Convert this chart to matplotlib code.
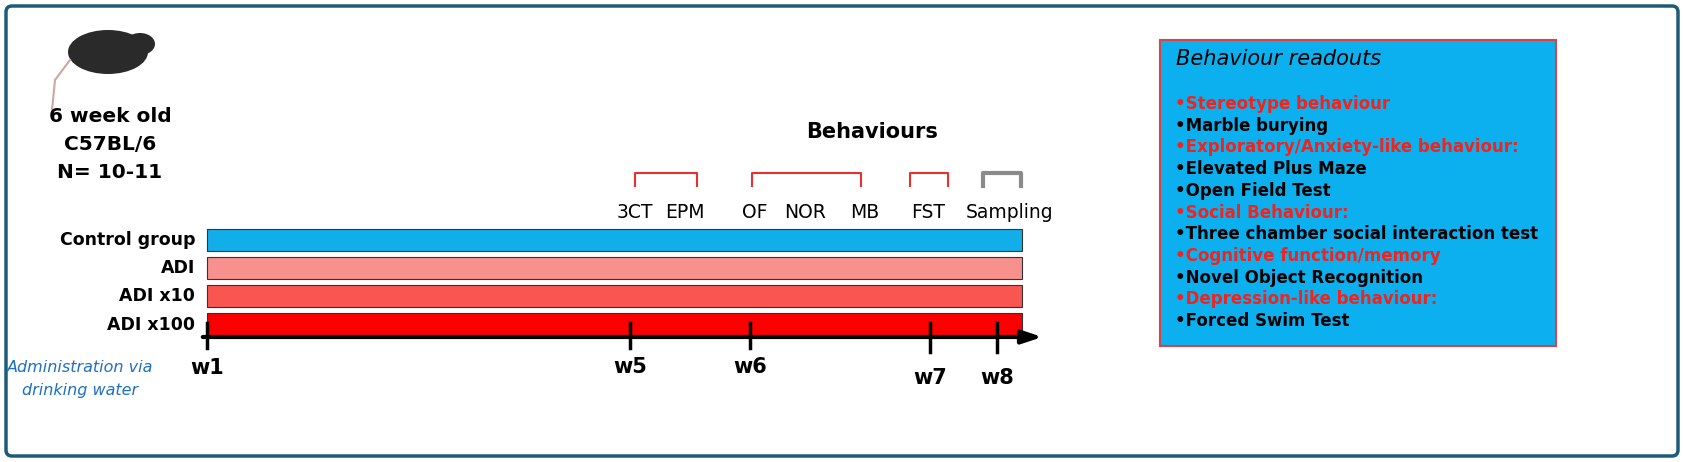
import matplotlib
matplotlib.use("Agg")
import matplotlib.pyplot as plt
from matplotlib.patches import FancyBboxPatch, Rectangle, Ellipse

groups = ["Control group", "ADI", "ADI x10", "ADI x100"]
group_colors = ["#12aeea", "#f7918d", "#f95651", "#fa0000"]
weeks = ["w1", "w5", "w6", "w7", "w8"]
week_x = [207, 630, 750, 930, 997]
week_label_y = [368, 367, 367, 378, 378]
tests = ["3CT", "EPM", "OF", "NOR", "MB", "FST", "Sampling"]
test_x = [635, 685, 755, 805, 865, 928, 1010]
brackets = [(635, 697, "#e8312c"), (752, 861, "#e8312c"), (910, 948, "#e8312c"), (983, 1021, "#8a8a8a")]
readouts = [("•Stereotype behaviour", True), ("•Marble burying", False),
            ("•Exploratory/Anxiety-like behaviour:", True), ("•Elevated Plus Maze", False),
            ("•Open Field Test", False), ("•Social Behaviour:", True),
            ("•Three chamber social interaction test", False), ("•Cognitive function/memory", True),
            ("•Novel Object Recognition", False), ("•Depression-like behaviour:", True),
            ("•Forced Swim Test", False)]

fig = plt.figure(figsize=(16.84, 4.62), dpi=100)
ax = fig.add_axes([0, 0, 1, 1])
ax.set_xlim(0, 1684); ax.set_ylim(462, 0); ax.axis("off")

ax.add_patch(FancyBboxPatch((6, 6), 1672, 450, boxstyle="round,pad=0,rounding_size=6",
                            fc="white", ec="#1d5c79", lw=2.5))
# mouse
ax.add_patch(Ellipse((108, 52), 80, 44, fc="#2a2a2a", ec="none"))
ax.add_patch(Ellipse((140, 44), 30, 22, fc="#2a2a2a", ec="none"))
ax.plot([70, 55, 52], [60, 80, 110], color="#c9a8a0", lw=1.5)

for i, t in enumerate(["6 week old", "C57BL/6", "N= 10-11"]):
    ax.text(110, 116 + i * 28, t, ha="center", va="center", fontsize=14.5, fontweight="bold")

bar_top = [229, 257, 285, 313]
bar_h = [22, 22, 22, 24]
for g, c, y, h in zip(groups, group_colors, bar_top, bar_h):
    ax.add_patch(Rectangle((207, y), 815, h, fc=c, ec="#333333", lw=0.8))
    ax.text(195, y + h / 2, g, ha="right", va="center", fontsize=12.5, fontweight="bold")

ax.annotate("", xy=(1045, 337), xytext=(200, 337),
            arrowprops=dict(arrowstyle="-|>,head_length=1.2,head_width=0.4", color="black", lw=3))
for w, x, ly in zip(weeks, week_x, week_label_y):
    ax.plot([x, x], [323, 352 if w in ("w7", "w8") else 348], color="black", lw=2.5)
    ax.text(x, ly, w, ha="center", va="center", fontsize=15, fontweight="bold")

ax.text(872, 132, "Behaviours", ha="center", va="center", fontsize=15, fontweight="bold")
for x0, x1, c in brackets:
    lw = 3 if c == "#8a8a8a" else 1.5
    ax.plot([x0, x0, x1, x1], [186, 173, 173, 186], color=c, lw=lw)
for t, x in zip(tests, test_x):
    ax.text(x, 212, t, ha="center", va="center", fontsize=13.5)

ax.text(80, 368, "Administration via", ha="center", va="center", fontsize=11.5, style="italic", color="#1f6fc0")
ax.text(80, 391, "drinking water", ha="center", va="center", fontsize=11.5, style="italic", color="#1f6fc0")

ax.add_patch(Rectangle((1160, 40), 396, 306, fc="#0cb0ee", ec="#d2464b", lw=1.5))
ax.text(1176, 59, "Behaviour readouts", ha="left", va="center", fontsize=15, style="italic")
for i, (t, red) in enumerate(readouts):
    ax.text(1175, 104 + i * 21.7, t, ha="left", va="center", fontsize=12, fontweight="bold",
            color="#f2231d" if red else "black")

fig.savefig("out.png", dpi=100)
